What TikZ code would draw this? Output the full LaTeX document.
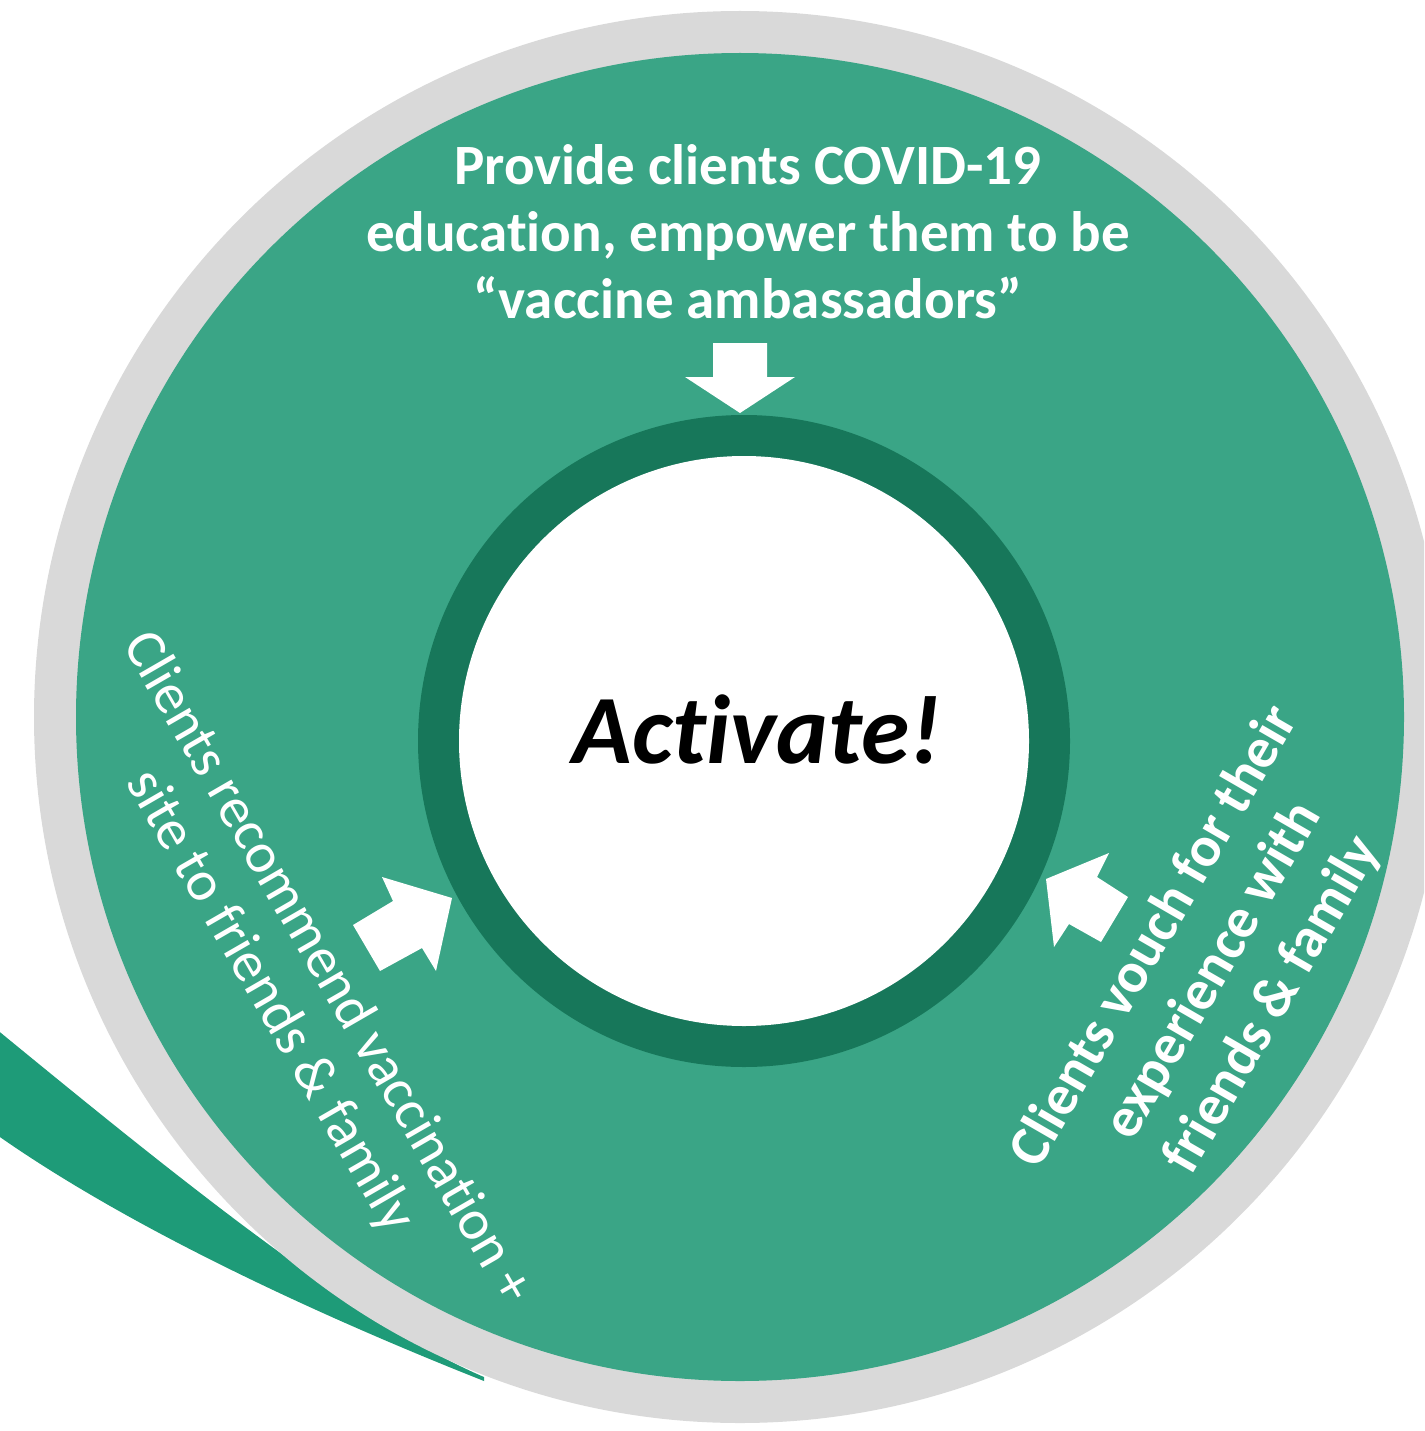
\documentclass[tikz,border=0pt]{standalone}
\usepackage{fontspec}
\setmainfont[Ligatures=NoCommon]{Carlito}
\definecolor{ringgray}{HTML}{D9D9D9}
\definecolor{maingreen}{HTML}{3AA586}
\definecolor{darkgreen}{HTML}{17775A}
\definecolor{swooshgreen}{HTML}{1E9B78}
\begin{document}
\begin{tikzpicture}[x=1pt,y=-1pt,
  disc/.style={circle, inner sep=0pt, outer sep=0pt, draw=none},
  blockarrow/.style={fill=white, draw=none},
  toptext/.style={text=white, align=center, font=\bfseries\fontsize{57}{67}\selectfont},
  lefttext/.style={text=white, align=center, font=\fontsize{57}{66}\selectfont},
  righttext/.style={text=white, align=center, font=\bfseries\fontsize{57}{68}\selectfont}
]
\useasboundingbox (0,0) rectangle (1424,1431);
\clip (0,0) rectangle (1424,1431);
% swoosh
\fill[swooshgreen] (-10,1024) .. controls (150,1155) and (350,1320) .. (484,1377)
   -- (484,1381) .. controls (330,1320) and (130,1230) .. (-10,1130) -- cycle;
% circles
\node[disc, fill=ringgray, minimum size=1412pt] (outer) at (740,717) {};
\node[disc, fill=maingreen, minimum size=1328pt] (band) at (740,717) {};
\node[disc, fill=darkgreen, minimum size=652pt] (ring) at (744,741) {};
\node[disc, fill=white, minimum size=570pt] (core) at (744,741) {};
% block arrows
\fill[blockarrow] (713,343) -- (767,343) -- (767,377) -- (795,377) -- (740,413) -- (685,377) -- (713,377) -- cycle;
\fill[blockarrow] (353,925) -- (393,901) -- (382,877) -- (452,898) -- (436,971) -- (422,948) -- (380,971) -- cycle;
\fill[blockarrow] (1046,879) -- (1109,853) -- (1097,877) -- (1128,897) -- (1101,942) -- (1069,924) -- (1054,947) -- cycle;
% texts
\node[toptext] (educate) at (748,232) {Provide clients COVID-19\\education, empower them to be\\“vaccine ambassadors”};
\node[anchor=base, font=\bfseries\itshape\fontsize{98}{110}\selectfont, text=black] (activate) at (757,763) {Activate!};
\node[lefttext, rotate=-60] (recommend) at (298,985) {Clients recommend vaccination +\\site to friends \& family};
\node[righttext, rotate=60] (vouch) at (1214,971) {Clients vouch for their\\experience with\\friends \& family};
\end{tikzpicture}
\end{document}
